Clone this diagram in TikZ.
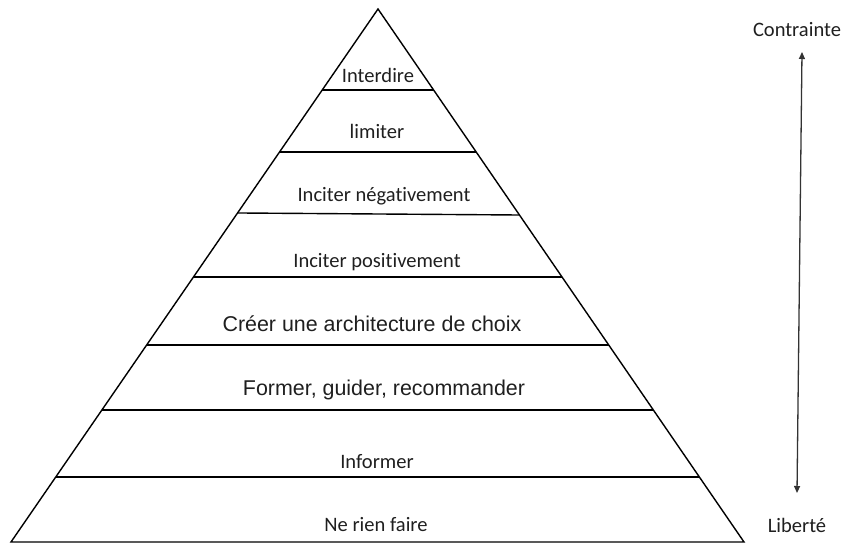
\documentclass[tikz,border=0pt]{standalone}
\usepackage{fontspec}
\setmainfont[Ligatures={NoCommon}]{Carlito}
\newfontfamily\arialf{Liberation Sans}
\usetikzlibrary{calc,arrows.meta}
\begin{document}
\begin{tikzpicture}[x=1bp,y=-1bp,
  edge/.style={line width=1.4bp,black},
  lab/.style={text=black!88,font=\fontsize{20.6pt}{24pt}\selectfont,inner sep=0pt,anchor=center},
  labA/.style={text=black!88,font=\arialf\fontsize{21.5pt}{25pt}\selectfont,inner sep=0pt,anchor=center},
  axis/.style={line width=1.3bp,black!80,{Triangle[length=7bp,width=6bp]}-{Triangle[length=7bp,width=6bp]}}]
\useasboundingbox (0,0) rectangle (841,544);
\coordinate (apex) at (378,9);
\coordinate (bl) at (11,542);
\coordinate (br) at (744,542);
\draw[edge,line join=miter] (bl) -- (apex) -- (br) -- cycle;
\foreach \a/\b in {0.152/0.152, 0.2683/0.2683, 0.3827/0.3865, 0.5028/0.5028, 0.6304/0.6304, 0.7523/0.7523, 0.878/0.878}{
  \draw[edge] ($(apex)!\a!(bl)$) -- ($(apex)!\b!(br)$);
}
\node[lab] (t1) at (378,75) {Interdire};
\node[lab] (t2) at (377,131) {limiter};
\node[lab] (t3) at (384,196) {Inciter négativement};
\node[lab] (t4) at (377,262) {Inciter positivement};
\node[labA] (t5) at (372,324) {Créer une architecture de choix};
\node[labA] (t6) at (384,390) {Former, guider, recommander};
\node[lab] (t7) at (377,462) {Informer};
\node[lab] (t8) at (376,525) {Ne rien faire};
\node[lab] (top) at (797,30) {Contrainte};
\node[lab] (bot) at (797,525) {Liberté};
\coordinate (ua) at (802,52);
\coordinate (la) at (797,493);
\draw[axis] (ua) -- (la);
\end{tikzpicture}
\end{document}
